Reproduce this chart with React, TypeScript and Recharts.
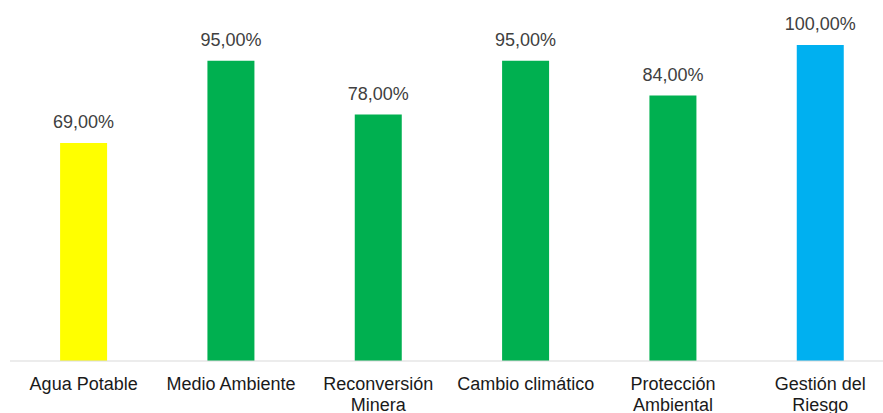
import React from "react";
import { BarChart, Bar, XAxis, YAxis, Cell, LabelList } from "recharts";

const categories = [
  "Agua Potable",
  "Medio Ambiente",
  "Reconversión\nMinera",
  "Cambio climático",
  "Protección\nAmbiental",
  "Gestión del\nRiesgo",
];
const values = [0.69, 0.95, 0.78, 0.95, 0.84, 1.0];
const colors = ["#FFFF00", "#00B050", "#00B050", "#00B050", "#00B050", "#00B0F0"];

const data = categories.map((name, i) => ({ name, value: values[i] }));

const fmt = (v: number) =>
  (v * 100).toFixed(2).replace(".", ",") + "%";

const WrappedTick = (props: any) => {
  const { x, y, payload } = props;
  const lines = String(payload.value).split("\n");
  return (
    <text x={x} y={y} textAnchor="middle" fill="#1a1a1a" fontSize={18}>
      {lines.map((l, i) => (
        <tspan key={i} x={x} dy={i === 0 ? 29 : 21}>
          {l}
        </tspan>
      ))}
    </text>
  );
};

const App: React.FC = () => {
  return (
    <div
      style={{
        position: "absolute",
        left: 0,
        top: 0,
        width: 883,
        height: 413,
        overflow: "hidden",
        background: "#fff",
        fontFamily: "'Liberation Sans', Arial, sans-serif",
      }}
    >
      <BarChart
        width={894}
        height={413}
        data={data}
        margin={{ top: 45, right: 0, left: 10, bottom: 0 }}
        barCategoryGap="34%"
      >
        <XAxis
          dataKey="name"
          height={52}
          axisLine={{ stroke: "#d9d9d9", strokeWidth: 1 }}
          tickLine={false}
          tickSize={0}
          tickMargin={0}
          interval={0}
          tick={<WrappedTick />}
        />
        <YAxis hide domain={[0, 1]} />
        <Bar dataKey="value" isAnimationActive={false}>
          {data.map((_, i) => (
            <Cell key={i} fill={colors[i]} />
          ))}
          <LabelList
            dataKey="value"
            position="top"
            offset={15}
            formatter={(v: any) => fmt(Number(v))}
            style={{ fill: "#404040", fontSize: 18 }}
          />
        </Bar>
      </BarChart>
    </div>
  );
};

export default App;
